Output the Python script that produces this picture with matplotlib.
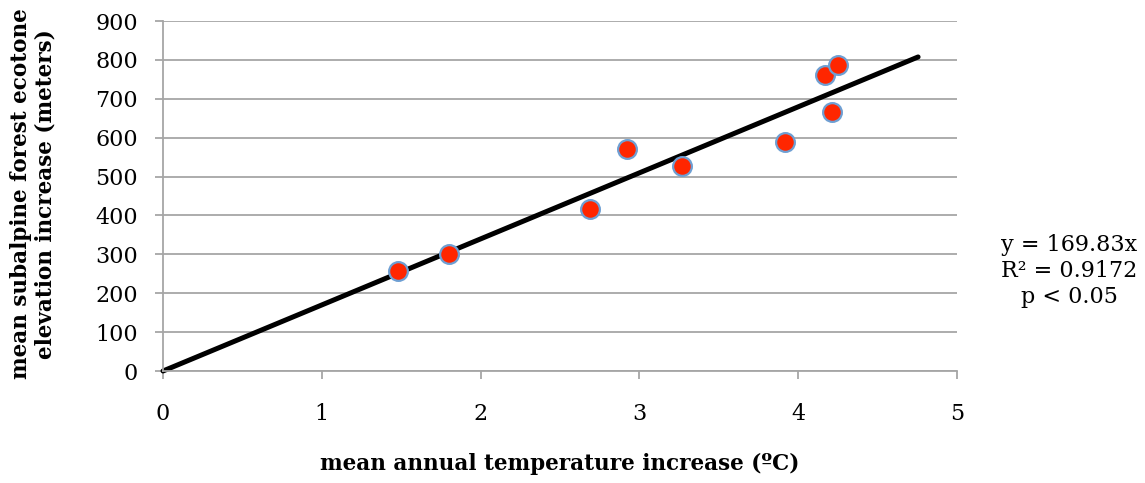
import numpy as np
import matplotlib
matplotlib.use("Agg")
import matplotlib.pyplot as plt

# ---------- data ----------
temp_increase = [1.48, 1.80, 2.69, 2.92, 3.27, 3.92, 4.17, 4.21, 4.25]
elev_increase = [256, 302, 417, 570, 528, 588, 761, 665, 786]

slope = 169.83
trend_x = [0, 4.755]
fit_lines = ["y = 169.83x", "R² = 0.9172", "p < 0.05"]

x_ticks = [0, 1, 2, 3, 4, 5]
y_ticks = list(range(0, 1000, 100))

grid_gray = "#A6A6A6"
plt.rcParams["font.family"] = ["DejaVu Serif"]

fig = plt.figure(figsize=(11.45, 4.83), dpi=100)
ax = fig.add_axes([163 / 1145, 1 - 371 / 483, (957 - 163) / 1145, (371 - 21) / 483])

ax.set_xlim(0, 5)
ax.set_ylim(0, 900)
ax.set_xticks(x_ticks)
ax.set_yticks(y_ticks)

ax.grid(axis="y", color=grid_gray, linewidth=1.3, zorder=0)
for side in ("top", "right"):
    ax.spines[side].set_visible(False)
for side in ("left", "bottom"):
    ax.spines[side].set_color(grid_gray)
    ax.spines[side].set_linewidth(1.3)

ax.tick_params(axis="both", direction="out", color=grid_gray, width=1.3,
               length=6, labelsize=16)
ax.tick_params(axis="x", pad=17)
ax.tick_params(axis="y", pad=12)

# trendline through the origin
tx = np.array(trend_x)
ax.plot(tx, slope * tx, color="black", linewidth=3.6, solid_capstyle="round",
        zorder=2, clip_on=False)

ax.plot(temp_increase, elev_increase, linestyle="none", marker="o",
        markersize=13.5, markerfacecolor="#FF2600", markeredgecolor="#6E9FD3",
        markeredgewidth=1.6, zorder=3)

ax.set_xlabel("mean annual temperature increase (ºC)", fontsize=15.5,
              fontweight="bold", labelpad=20)
fig.text(33 / 1145, 1 - 194 / 483,
         "mean subalpine forest ecotone\nelevation increase (meters)",
         rotation=90, ha="center", va="center", fontsize=15.5,
         fontweight="bold", linespacing=1.15)

for i, line in enumerate(fit_lines):
    fig.text(1069 / 1145, 1 - (245 + i * 26) / 483, line, ha="center",
             va="center", fontsize=16)

fig.savefig("out.png", dpi=100)
